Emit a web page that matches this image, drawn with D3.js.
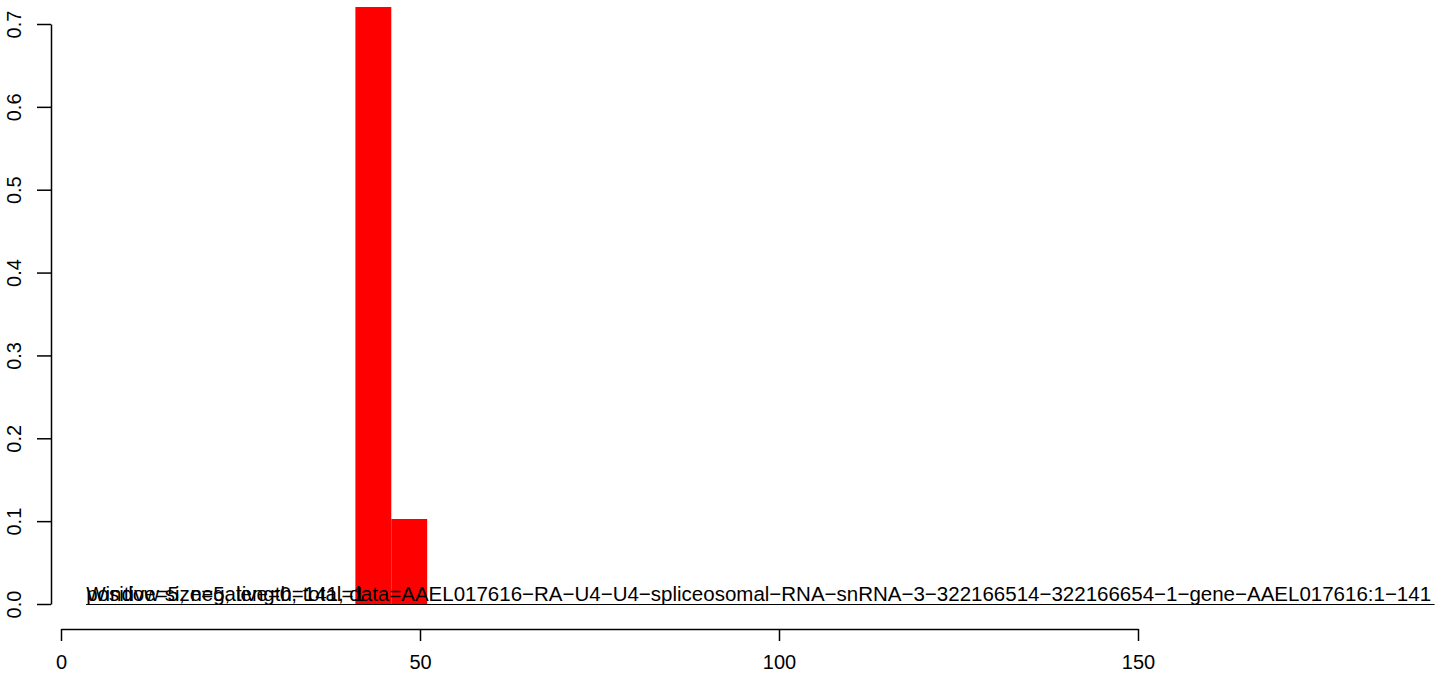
<!DOCTYPE html>
<html>
<head>
<meta charset="utf-8">
<script src="https://cdn.jsdelivr.net/npm/d3@7"></script>
<style>
  html, body { margin: 0; padding: 0; background: #fff; }
  svg { display: block; font-family: "Liberation Sans", Arial, sans-serif; }
</style>
</head>
<body>
<script>
// window bins (start position) and their values
const binStarts = [41, 46];
const binValues = [0.7205, 0.1026];
const binWidth = 5;

const xTicks = [0, 50, 100, 150];
const yTicks = [0, 0.1, 0.2, 0.3, 0.4, 0.5, 0.6, 0.7];

// zero baseline drawn under the labels
const baselineRange = [3.5, 191.3];

const labels = [
  'Window size=5, length=141, data=AAEL017616\u2212RA\u2212U4\u2212U4\u2212spliceosomal\u2212RNA\u2212snRNA\u22123\u2212322166514\u2212322166654\u22121\u2212gene\u2212AAEL017616:1\u2212141',
  'positive=5, negative=0, total=1'
];

const width = 1444;
const height = 679;

const svg = d3.select('body').append('svg')
  .attr('width', width)
  .attr('height', height);

const xScale = d3.scaleLinear().domain([0, 150]).range([61, 1138]);
const yScale = d3.scaleLinear().domain([0, 0.7]).range([604, 24]);

// bars
svg.append('g').selectAll('rect')
  .data(binStarts)
  .enter().append('rect')
  .attr('x', d => xScale(d))
  .attr('width', d => xScale(d + binWidth) - xScale(d))
  .attr('y', (d, i) => yScale(binValues[i]))
  .attr('height', (d, i) => yScale(0) - yScale(binValues[i]))
  .attr('fill', '#ff0000');

// baseline
svg.append('line')
  .attr('x1', xScale(baselineRange[0]))
  .attr('x2', xScale(baselineRange[1]))
  .attr('y1', yScale(0) + 0.5)
  .attr('y2', yScale(0) + 0.5)
  .attr('stroke', '#000')
  .attr('stroke-width', 1);

// labels
svg.append('g').selectAll('text')
  .data(labels)
  .enter().append('text')
  .attr('x', xScale(baselineRange[0]))
  .attr('y', yScale(0) - 3)
  .attr('font-size', 20.5)
  .attr('fill', '#000')
  .text(d => d);

// axes
const xAxis = d3.axisBottom(xScale)
  .tickValues(xTicks)
  .tickFormat(d3.format('d'))
  .tickSize(12)
  .tickPadding(14)
  .tickSizeOuter(0);

const yAxis = d3.axisLeft(yScale)
  .tickValues(yTicks)
  .tickFormat(d3.format('.1f'))
  .tickSize(14)
  .tickSizeOuter(0);

const gx = svg.append('g')
  .attr('transform', 'translate(0, 629)')
  .call(xAxis);

const gy = svg.append('g')
  .attr('transform', 'translate(51, 0)')
  .call(yAxis);

[gx, gy].forEach(g => {
  g.select('.domain').attr('stroke', '#000').attr('stroke-width', 1.5);
  g.selectAll('.tick line').attr('stroke', '#000').attr('stroke-width', 1.5);
  g.selectAll('.tick text')
    .attr('fill', '#000')
    .attr('font-size', 20)
    .attr('font-family', '"Liberation Sans", Arial, sans-serif');
});

gy.selectAll('.tick text')
  .attr('x', 0)
  .attr('y', 0)
  .attr('dy', 0)
  .attr('text-anchor', 'middle')
  .attr('transform', 'translate(-30, 0) rotate(-90)');
</script>
</body>
</html>
